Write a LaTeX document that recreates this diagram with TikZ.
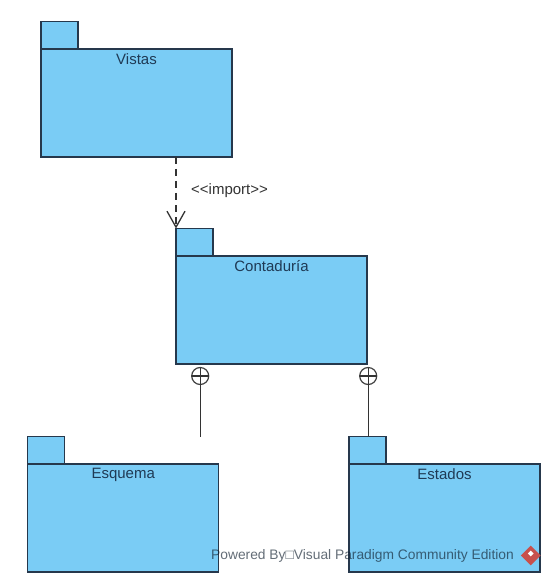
\documentclass[tikz,border=0pt]{standalone}
\usepackage{fontspec}
\setmainfont{Liberation Sans}
\usepackage{tikz}
\usetikzlibrary{arrows.meta,positioning,shapes.geometric}
\definecolor{pkgfill}{HTML}{7ACCF5}
\definecolor{pkgline}{HTML}{26384C}
\definecolor{pkgtext}{HTML}{1F3A55}
\definecolor{logored}{HTML}{C8504C}
\tikzset{
  pkgbody/.style={draw=pkgline,fill=pkgfill,line width=1.1pt,outer sep=0pt,inner sep=0pt,minimum width=191pt,minimum height=108pt},
  pkgtab/.style={draw=pkgline,fill=pkgfill,line width=1.1pt,outer sep=0pt,inner sep=0pt,minimum width=37pt,minimum height=27.5pt},
  pkgtitle/.style={text=pkgtext,font=\fontsize{15}{17}\selectfont,inner sep=0pt},
  plusmark/.style={circle,draw=black!75,line width=1.2pt,fill=white,inner sep=0pt,outer sep=0pt,minimum size=17pt},
  wire/.style={draw=black!80,line width=1.3pt},
}

\begin{document}
\begin{tikzpicture}[x=1pt,y=-1pt]
%
\path[use as bounding box,fill=white] (0,0) rectangle (548,585);
%
\newcommand{\umlpackage}[4]{
  \node[pkgbody,anchor=north west] (#3) at (#1,#2) {};
  \node[pkgtab,anchor=south west] (#3tab) at (#3.north west) {};
  \node[pkgtitle,yshift=-10.5pt] (#3title) at (#3.north) {#4};
}
%
\umlpackage{41}{49}{vistas}{Vistas}
\umlpackage{176}{256}{contaduria}{Contaduría}
\umlpackage{27.7}{464}{esquema}{Esquema}
\umlpackage{349}{464}{estados}{Estados}
%
\begin{scope}[-{Straight Barb[length=16pt,width=18pt]}]
  \draw[wire,dash pattern=on 7pt off 5pt] (vistas.south -| contaduriatab.north west) -- (contaduriatab.north west);
\end{scope}
\node[pkgtitle,text=black!80,anchor=west] (importlabel) at (191,190.5) {{<}{<}import{>}{>}};
%
\node[plusmark] (plusesquema) at (200.2,376) {};
\node[plusmark] (plusestados) at (368.2,376) {};
\coordinate (esquemafree) at (200.2,436.5);
\draw[wire] (plusesquema.north) -- (esquemafree);
\draw[wire] (plusestados.north) -- (plusestados |- estadostab.north);
\draw[wire] (plusesquema.west) -- (plusesquema.east);
\draw[wire] (plusestados.west) -- (plusestados.east);
%
\node[text=black!45!pkgtext,opacity=0.65,font=\fontsize{13.8}{16}\selectfont,anchor=west,inner sep=0pt] (watermark) at (211,555.5) {Powered By□Visual Paradigm Community Edition};
\node[diamond,fill=logored,inner sep=0pt,minimum size=20pt,right=6.5pt of watermark] (logo) {};
\node[diamond,fill=white,inner sep=0pt,minimum size=6pt,yshift=2pt] (logomark) at (logo.center) {};
%
\end{tikzpicture}
\end{document}
